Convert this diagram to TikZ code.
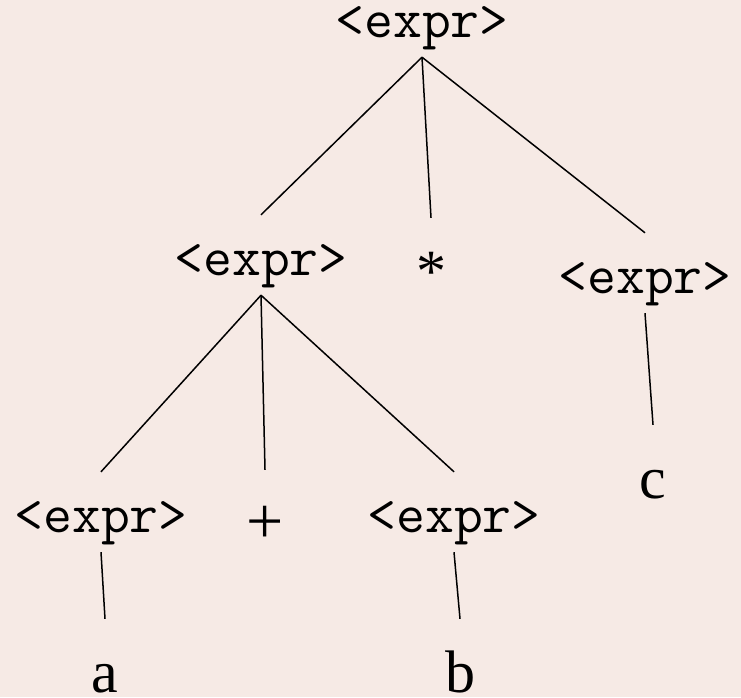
\documentclass[tikz,border=0pt]{standalone}
\usepackage{fontspec}
\setmainfont{Liberation Serif}
\usetikzlibrary{positioning}
\definecolor{paper}{HTML}{F6EAE5}
\begin{document}
\begin{tikzpicture}[x=1pt,y=-1pt,
    expr/.style={font=\fontsize{56}{56}\ttfamily,inner sep=0pt,
      text height=60pt,text depth=20pt,anchor=base},
    leaf/.style={font=\fontsize{60}{60}\selectfont,inner sep=0pt,
      text height=73pt,text depth=0pt,anchor=base},
    edge/.style={line width=1.5pt}]
  \fill[paper] (0,0) rectangle (741,697);
  \useasboundingbox (0,0) rectangle (741,697);
  % nonterminals
  \node[expr] (root) at (422,37) {<expr>};
  \node[expr] (lhs) at (261,275) {<expr>};
  \node[expr] (rhs) at (645,293) {<expr>};
  \node[expr] (ea) at (101,532) {<expr>};
  \node[expr] (eb) at (454,532) {<expr>};
  % terminals
  \node[leaf] (times) at (431,291) {*};
  \node[leaf,font=\fontsize{66}{66}\selectfont] (plus) at (265,543) {+};
  \node[leaf] (a) at (105,692) {a};
  \node[leaf] (b) at (460,692) {b};
  \node[leaf] (c) at (653,498) {c};
  % edges
  \draw[edge] (root.south) -- (lhs.north);
  \draw[edge] (root.south) -- (times.north);
  \draw[edge] (root.south) -- (rhs.north);
  \draw[edge] (lhs.south) -- (ea.north);
  \draw[edge] (lhs.south) -- (plus.north);
  \draw[edge] (lhs.south) -- (eb.north);
  \draw[edge] (ea.south) -- (a.north);
  \draw[edge] (eb.south) -- (b.north);
  \draw[edge] (rhs.south) -- (c.north);
\end{tikzpicture}
\end{document}
